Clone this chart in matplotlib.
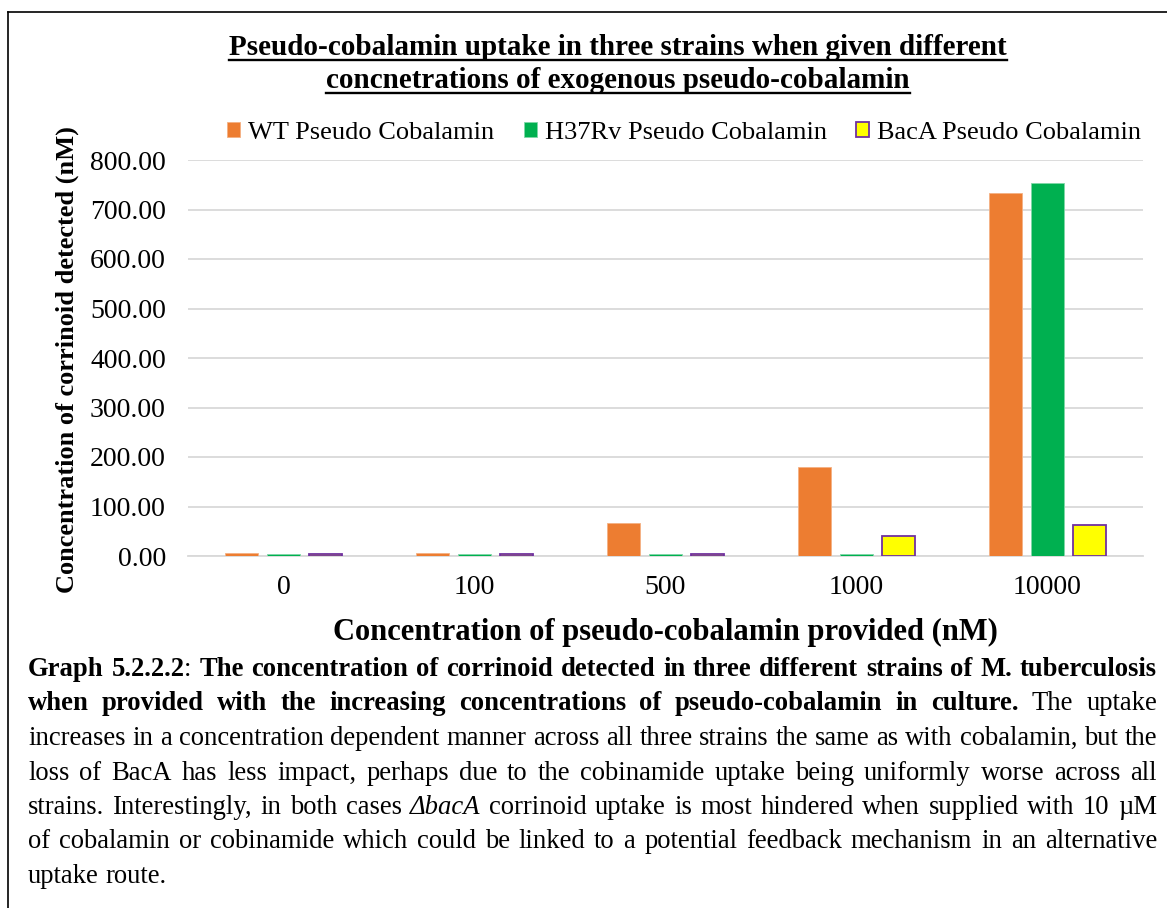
import matplotlib
matplotlib.use("Agg")
import matplotlib.pyplot as plt
from matplotlib.lines import Line2D
from matplotlib.transforms import IdentityTransform
import numpy as np

W, H, DPI = 1167, 908, 100

# data
categories = ["0", "100", "500", "1000", "10000"]
wt_values = [6, 6, 67, 179, 733]
h37rv_values = [4, 4, 4, 4, 753]
baca_values = [5, 5, 5, 40, 62]
series_labels = ["WT Pseudo Cobalamin", "H37Rv Pseudo Cobalamin", "BacA Pseudo Cobalamin"]
y_ticks = [0, 100, 200, 300, 400, 500, 600, 700, 800]

title_lines = [
    "Pseudo-cobalamin uptake in three strains when given different",
    "concnetrations of exogenous pseudo-cobalamin",
]
x_title = "Concentration of pseudo-cobalamin provided (nM)"
y_title = "Concentration of corrinoid detected (nM)"

# caption: list of lines, each a list of (text, style) runs
caption_lines = [
    [("Graph 5.2.2.2", "b"), (": ", "r"),
     ("The concentration of corrinoid detected in three different strains of M. tuberculosis", "b")],
    [("when provided with the increasing concentrations of pseudo-cobalamin in culture.", "b"),
     (" The uptake", "r")],
    [("increases in a concentration dependent manner across all three strains the same as with cobalamin, but the", "r")],
    [("loss of BacA has less impact, perhaps due to the cobinamide uptake being uniformly worse across all", "r")],
    [("strains. Interestingly, in both cases ", "r"), ("\u0394bacA", "i"),
     (" corrinoid uptake is most hindered when supplied with 10 \u00b5M", "r")],
    [("of cobalamin or cobinamide which could be linked to a potential feedback mechanism in an alternative", "r")],
    [("uptake route.", "r")],
]

plt.rcParams['font.family'] = ['Liberation Serif', 'DejaVu Serif']

ORANGE = '#ED7D31'
GREEN = '#00B050'
YELLOW = '#FFFF00'
PURPLE = '#7030A0'
GRID = '#D9D9D9'

fig = plt.figure(figsize=(W / DPI, H / DPI), dpi=DPI)
fig.patch.set_facecolor('white')

# plot area in pixels: x 188..1143, y 160..556
ax = fig.add_axes([188 / W, 1 - 556 / H, (1143 - 188) / W, (556 - 160) / H])

x = np.arange(len(categories))
bw = 0.173
step = 0.22
ax.bar(x - step, wt_values, bw, color=ORANGE, edgecolor='#F4B183', linewidth=0.6,
       label=series_labels[0], zorder=3)
ax.bar(x, h37rv_values, bw, color=GREEN, edgecolor='#7FD7A7', linewidth=0.6,
       label=series_labels[1], zorder=3)
ax.bar(x + step, baca_values, bw, color=YELLOW, edgecolor=PURPLE, linewidth=1.3,
       label=series_labels[2], zorder=3)

ax.set_xlim(-0.5, len(categories) - 0.5)
ax.set_ylim(0, 800)
ax.set_yticks(y_ticks)
ax.set_yticklabels([f"{v:.2f}" for v in y_ticks])
ax.set_xticks(x)
ax.set_xticklabels(categories)
ax.tick_params(axis='both', length=0, labelsize=20, colors='black')
ax.tick_params(axis='y', pad=16)
ax.tick_params(axis='x', pad=14)
ax.yaxis.grid(True, color=GRID, linewidth=1.3, zorder=0)
ax.set_axisbelow(True)
for s in ['top', 'right', 'left']:
    ax.spines[s].set_visible(False)
ax.spines['bottom'].set_color(GRID)
ax.spines['bottom'].set_linewidth(1.3)

ax.legend(loc='center', bbox_to_anchor=(684 / W, 1 - 133 / H), bbox_transform=fig.transFigure,
          ncol=3, frameon=False, fontsize=19, handlelength=0.5, handleheight=0.5,
          handletextpad=0.3, columnspacing=1.1, borderaxespad=0)

pix = IdentityTransform()

def fpx(xp, yp):
    return xp, H - yp

# axis titles
fig.text(665 / W, 1 - 632 / H, x_title, ha='center', va='center', fontsize=22,
         fontweight='bold')
fig.text(67 / W, 1 - 360 / H, y_title, ha='center', va='center', rotation=90,
         fontsize=19, fontweight='bold')

renderer = fig.canvas.get_renderer()

# underlined title
for line, yb in zip(title_lines, [55, 88]):
    t = fig.text(*fpx(618, yb), line, transform=pix, ha='center', va='baseline',
                 fontsize=21, fontweight='bold')
    bb = t.get_window_extent(renderer)
    fig.add_artist(Line2D([bb.x0, bb.x1], [H - yb - 5, H - yb - 5], transform=pix,
                          color='black', linewidth=1.7))

# frame lines round the figure (top and left only)
fig.add_artist(Line2D([8, W], [H - 12, H - 12], transform=pix, color='black', linewidth=1.2))
fig.add_artist(Line2D([8, 8], [H - 12, 0], transform=pix, color='black', linewidth=1.2))

# justified caption
styles = {'r': dict(fontweight='normal', fontstyle='normal'),
          'b': dict(fontweight='bold', fontstyle='normal'),
          'i': dict(fontweight='normal', fontstyle='italic')}

def text_width(s, style, size):
    t = fig.text(0, 0, s, transform=pix, fontsize=size, **styles[style])
    w = t.get_window_extent(renderer).width
    t.remove()
    return w

left, right = 28, 1157
# pick the caption size so that the third line fills the width with plain spaces
ref_line = caption_lines[2][0][0]
cap_size = 16.5 * (right - left - 2) / text_width(ref_line, 'r', 16.5)
space_w = text_width("a a", 'r', cap_size) - text_width("aa", 'r', cap_size)

for li, runs in enumerate(caption_lines):
    words, cur = [], []
    for text, style in runs:
        parts = text.split(" ")
        for i, p in enumerate(parts):
            if i > 0 and cur:
                words.append(cur)
                cur = []
            if p:
                cur.append((p, style))
    if cur:
        words.append(cur)
    widths = [[text_width(p, st, cap_size) for p, st in w] for w in words]
    total = sum(sum(w) for w in widths)
    last = li == len(caption_lines) - 1
    gap = space_w if last else (right - left - total) / (len(words) - 1)
    yb = 676 + li * 34.5
    xp = left
    for w, ws in zip(words, widths):
        for (p, st), pw in zip(w, ws):
            fig.text(*fpx(xp, yb), p, transform=pix, ha='left', va='baseline',
                     fontsize=cap_size, **styles[st])
            xp += pw
        xp += gap

fig.savefig("out.png", dpi=DPI)
